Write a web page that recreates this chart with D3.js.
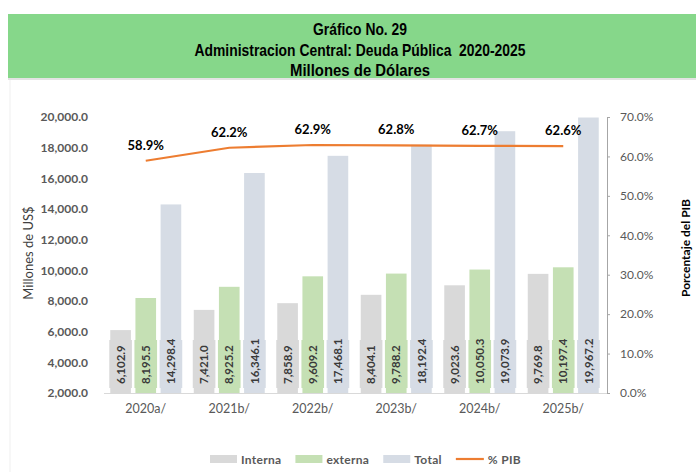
<!DOCTYPE html>
<html>
<head>
<meta charset="utf-8">
<script src="https://cdn.jsdelivr.net/npm/d3@7"></script>
<style>
  body { margin: 0; background: #fff; }
  text { font-family: Lato, "Open Sans", sans-serif; }
</style>
</head>
<body>
<div id="chart"></div>
<script>
// Chart size
var width = 696;
var height = 472;

// Data
var categories = ["2020a/", "2021b/", "2022b/", "2023b/", "2024b/", "2025b/"];
var interna = [6102.9, 7421.0, 7858.9, 8404.1, 9023.6, 9769.8];
var externa = [8195.5, 8925.2, 9609.2, 9788.2, 10050.3, 10197.4];
var total = [14298.4, 16346.1, 17468.1, 18192.4, 19073.9, 19967.2];
var pctPib = [58.9, 62.2, 62.9, 62.8, 62.7, 62.6];
var leftTicks = [2000, 4000, 6000, 8000, 10000, 12000, 14000, 16000, 18000, 20000];
var rightTicks = [0, 10, 20, 30, 40, 50, 60, 70];
var titleLines = ["Gráfico No. 29", "Administracion Central: Deuda Pública  2020-2025", "Millones de Dólares"];

var seriesNames = ["Interna", "externa", "Total"];
var seriesColors = ["#d9d9d9", "#c5e0b4", "#d6dce5"];
var seriesValues = [interna, externa, total];
var lineColor = "#ed7d31";

var svg = d3.select("#chart").append("svg")
    .attr("width", width)
    .attr("height", height);

// Header band
svg.append("rect").attr("x", 8).attr("y", 14).attr("width", width - 8).attr("height", 64)
    .attr("fill", "#86d78a");
svg.append("rect").attr("x", 8).attr("y", 78).attr("width", width - 8).attr("height", 2)
    .attr("fill", "#e3e3e3");
svg.append("line").attr("x1", 10).attr("x2", 10).attr("y1", 80).attr("y2", height)
    .attr("stroke", "#efefef");

var titleWidths = [94, 331, 140];
svg.selectAll(".title")
    .data(titleLines)
    .enter()
    .append("text")
    .attr("class", "title")
    .attr("x", 360)
    .attr("y", function(d, i) { return 35 + i * 20.7; })
    .attr("text-anchor", "middle")
    .attr("textLength", function(d, i) { return titleWidths[i]; })
    .attr("lengthAdjust", "spacingAndGlyphs")
    .style("white-space", "pre")
    .style("font-family", "'Liberation Sans', Arial, sans-serif")
    .style("font-weight", "bold")
    .style("font-size", "17px")
    .attr("fill", "#000")
    .text(function(d) { return d; });

// Scales
var x0 = d3.scaleBand().domain(categories).range([104, 605])
    .paddingInner(0.15).paddingOuter(0.075);
var x1 = d3.scaleBand().domain(d3.range(3)).range([0, x0.bandwidth()])
    .paddingInner(0.18).paddingOuter(0);
var yL = d3.scaleLinear().domain([2000, 20000]).range([393, 117]);
var yR = d3.scaleLinear().domain([0, 70]).range([393, 117]);

// Left axis labels
var fmt = d3.format(",.1f");
svg.append("g")
    .attr("transform", "translate(96,0)")
    .call(d3.axisLeft(yL).tickValues(leftTicks).tickSize(0).tickPadding(8).tickFormat(fmt))
    .call(function(g) {
        g.select(".domain").remove();
        g.selectAll("text").attr("fill", "#595959")
            .style("font-family", "Lato, sans-serif").style("font-size", "12px").style("font-weight", "bold");
    });

// Right axis
svg.append("g")
    .attr("transform", "translate(607,0)")
    .call(d3.axisRight(yR).tickValues(rightTicks).tickSize(3).tickPadding(10)
        .tickFormat(function(d) { return d.toFixed(1) + "%"; }))
    .call(function(g) {
        g.select(".domain").attr("stroke", "#a6a6a6").attr("d", "M0.5,117V393");
        g.selectAll("line").attr("stroke", "#a6a6a6");
        g.selectAll("text").attr("fill", "#595959")
            .style("font-family", "Lato, sans-serif").style("font-size", "12px");
    });

// Bars
var groups = svg.selectAll(".grp")
    .data(categories)
    .enter()
    .append("g")
    .attr("class", "grp")
    .attr("transform", function(d) { return "translate(" + x0(d) + ",0)"; });

groups.each(function(cat, ci) {
    var g = d3.select(this);
    var rows = seriesValues.map(function(vals, si) { return { s: si, v: vals[ci] }; });
    g.selectAll("rect.bar")
        .data(rows)
        .enter()
        .append("rect")
        .attr("class", "bar")
        .attr("x", function(d) { return x1(d.s); })
        .attr("y", function(d) { return yL(d.v); })
        .attr("width", x1.bandwidth())
        .attr("height", function(d) { return yL(2000) - yL(d.v); })
        .attr("fill", function(d) { return seriesColors[d.s]; });
    g.selectAll("rect.lblbox")
        .data(rows)
        .enter()
        .append("rect")
        .attr("class", "lblbox")
        .attr("x", function(d) { return x1(d.s) - 1; })
        .attr("y", 340)
        .attr("width", x1.bandwidth() + 2)
        .attr("height", 48)
        .attr("fill", function(d) { return seriesColors[d.s]; });
    g.selectAll("text.lbl")
        .data(rows)
        .enter()
        .append("text")
        .attr("class", "lbl")
        .attr("transform", function(d) {
            return "translate(" + (x1(d.s) + x1.bandwidth() / 2) + ",384) rotate(-90)";
        })
        .attr("dy", "0.36em")
        .attr("fill", "#3a3a3a")
        .style("font-size", "11.5px")
        .style("font-weight", "bold")
        .text(function(d) { return fmt(d.v); });
});

// Bottom axis line and category labels
svg.append("line").attr("x1", 104).attr("x2", 607).attr("y1", 393.5).attr("y2", 393.5)
    .attr("stroke", "#d9d9d9");
svg.selectAll(".cat")
    .data(categories)
    .enter()
    .append("text")
    .attr("class", "cat")
    .attr("x", function(d) { return x0(d) + x0.bandwidth() / 2; })
    .attr("y", 413)
    .attr("text-anchor", "middle")
    .attr("fill", "#595959")
    .style("font-size", "12.5px")
    .text(function(d) { return d; });

// % PIB line
var cx = function(d, i) { return x0(categories[i]) + x0.bandwidth() / 2; };
var line = d3.line().x(cx).y(function(d) { return yR(d); });
svg.append("path")
    .datum(pctPib)
    .attr("d", line)
    .attr("fill", "none")
    .attr("stroke", lineColor)
    .attr("stroke-width", 2.2);
svg.selectAll(".pct")
    .data(pctPib)
    .enter()
    .append("text")
    .attr("class", "pct")
    .attr("x", cx)
    .attr("y", function(d) { return yR(d) - 11; })
    .attr("text-anchor", "middle")
    .attr("fill", "#000")
    .style("font-size", "13px")
    .style("font-weight", "bold")
    .text(function(d) { return d.toFixed(1) + "%"; });

// Axis titles
svg.append("text")
    .attr("transform", "translate(33,253) rotate(-90)")
    .attr("text-anchor", "middle")
    .attr("fill", "#404040")
    .style("font-size", "13px")
    .text("Millones de US$");
svg.append("text")
    .attr("transform", "translate(690,248) rotate(-90)")
    .attr("text-anchor", "middle")
    .attr("fill", "#000")
    .style("font-size", "12px")
    .style("font-weight", "bold")
    .text("Porcentaje del PIB");

// Legend
var legendItems = seriesNames.concat(["% PIB"]);
var lx = 210;
legendItems.forEach(function(name, i) {
    if (i < 3) {
        svg.append("rect").attr("x", lx).attr("y", 455).attr("width", 27).attr("height", 8)
            .attr("fill", seriesColors[i]);
    } else {
        svg.append("line").attr("x1", lx).attr("x2", lx + 28).attr("y1", 459).attr("y2", 459)
            .attr("stroke", lineColor).attr("stroke-width", 2.2);
    }
    var t = svg.append("text")
        .attr("x", lx + (i < 3 ? 31 : 32))
        .attr("y", 463.5)
        .attr("fill", "#595959")
        .style("font-size", "12px")
        .style("font-weight", "bold")
        .style("letter-spacing", "0.3px")
        .text(name);
    lx += (i < 3 ? 31 : 32) + t.node().getComputedTextLength() + 14;
});
</script>
</body>
</html>
